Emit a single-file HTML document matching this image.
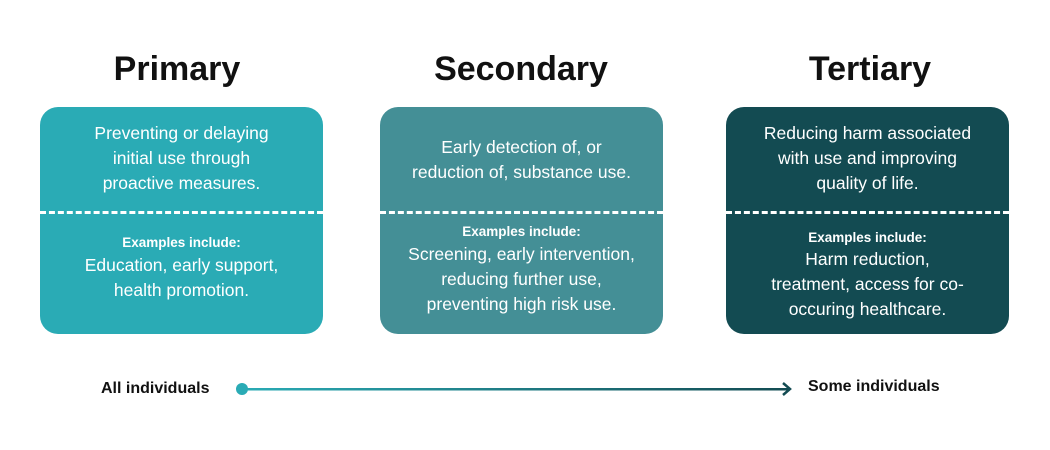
<!DOCTYPE html>
<html><head><meta charset="utf-8"><style>
body{margin:0;width:1050px;height:450px;background:#fff;position:relative;font-family:"Liberation Sans",sans-serif;overflow:hidden}
.t{position:absolute;font-weight:bold;font-size:34px;color:#111;text-align:center;width:300px;top:50px}
.box{position:absolute;top:107px;width:283px;height:227px;border-radius:18px;color:#fff;text-align:center}
.dash{position:absolute;left:0;right:0;top:104px;border-top:3px dashed #fff}
.l{position:absolute;left:0;right:0;font-size:17.5px;line-height:25px}
.b{font-weight:bold;font-size:13.5px}
.lab{position:absolute;font-weight:bold;font-size:16px;color:#111;top:380px}
</style></head><body>
<div class="t" style="left:27px">Primary</div>
<div class="t" style="left:371px">Secondary</div>
<div class="t" style="left:720px">Tertiary</div>

<div class="box" style="left:40px;background:#2aabb5">
<div class="l" style="top:14px">Preventing or delaying<br>initial use through<br>proactive measures.</div>
<div class="dash"></div>
<div class="l" style="top:122px"><span class="b">Examples include:</span></div>
<div class="l" style="top:146px">Education, early support,<br>health promotion.</div>
</div>

<div class="box" style="left:380px;background:#448f96">
<div class="l" style="top:28px">Early detection of, or<br>reduction of, substance use.</div>
<div class="dash"></div>
<div class="l" style="top:111px"><span class="b">Examples include:</span></div>
<div class="l" style="top:135px">Screening, early intervention,<br>reducing further use,<br>preventing high risk use.</div>
</div>

<div class="box" style="left:726px;background:#134b52">
<div class="l" style="top:14px">Reducing harm associated<br>with use and improving<br>quality of life.</div>
<div class="dash"></div>
<div class="l" style="top:117px"><span class="b">Examples include:</span></div>
<div class="l" style="top:140px">Harm reduction,<br>treatment, access for co-<br>occuring healthcare.</div>
</div>

<div class="lab" style="left:101px">All individuals</div>
<div class="lab" style="left:808px;top:378px">Some individuals</div>
<svg width="1050" height="450" style="position:absolute;left:0;top:0">
<defs><linearGradient id="g" gradientUnits="userSpaceOnUse" x1="242" y1="0" x2="790" y2="0"><stop offset="0" stop-color="#2aabb5"/><stop offset="1" stop-color="#134b52"/></linearGradient></defs>
<rect x="242" y="388" width="548" height="2.5" fill="url(#g)"/>
<circle cx="242" cy="389" r="6" fill="#2aabb5"/>
<polyline points="783,383 790,389 783,395" fill="none" stroke="#134b52" stroke-width="2.5"/>
</svg>
</body></html>
